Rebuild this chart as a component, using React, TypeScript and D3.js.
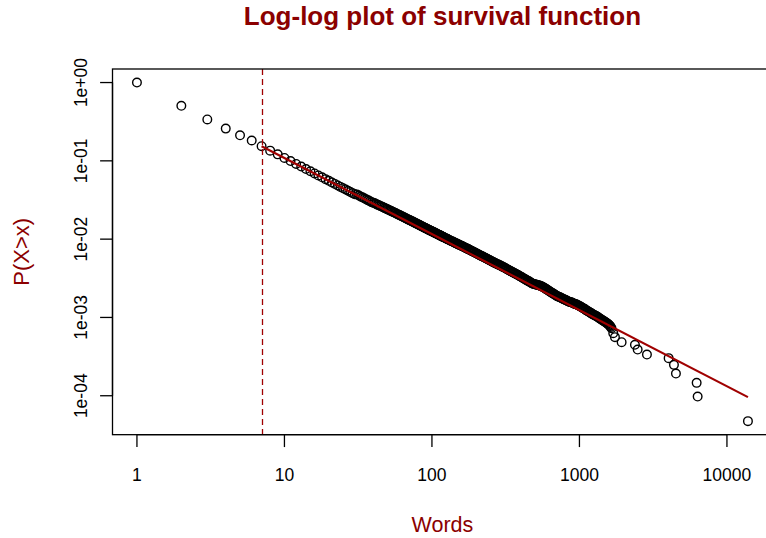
import React from "react";
import * as d3 from "d3";

// ---- data ----
const wordsX: number[] = [
  1, 2, 3, 4, 5, 6, 7, 8, 9, 10, 11, 12, 13, 14, 15, 16, 17, 18, 19, 20,
  21, 22, 23, 24, 25, 26, 27, 28, 29, 30, 31, 32, 33, 34, 35, 36, 37, 38, 39, 40,
  41, 42, 43, 44, 45, 46, 47, 48, 49, 50, 51, 52, 53, 54, 55, 56, 57, 58, 59, 60,
  62, 63, 65, 66, 68, 70, 72, 74, 76, 78, 80, 82, 85, 87, 90, 92, 95, 98, 100,
  103, 106, 109, 112, 115, 118, 121, 125, 128, 132, 136, 140, 144, 148, 152, 157,
  161, 166, 171, 176, 181, 186, 192, 198, 204, 210, 216, 222, 229, 236, 243, 250,
  258, 266, 274, 282, 291, 300, 309, 318, 328, 338, 348, 358, 369, 380, 392, 404,
  416, 429, 442, 455, 469, 483, 498, 513, 528, 544, 560, 577, 595, 613, 631, 650,
  670, 690, 711, 732, 754, 777, 800, 824, 849, 875, 901, 928, 956, 985, 1015, 1045,
  1077, 1109, 1142, 1177, 1212, 1249, 1286, 1325, 1365, 1406, 1448, 1490, 1530, 1570,
  1610, 1650, 1695, 1741, 1932, 2378, 2481, 2868, 4024, 4372, 4510, 6232, 6330, 13880,
];

const survivalY: number[] = [
  1.0, 0.505, 0.338, 0.258, 0.212, 0.182, 0.154, 0.135, 0.121, 0.109, 0.0994, 0.0913,
  0.0845, 0.0786, 0.0735, 0.069, 0.0651, 0.0616, 0.0584, 0.0556, 0.053, 0.0507, 0.0485,
  0.0465, 0.0447, 0.0431, 0.0415, 0.0401, 0.0387, 0.0375, 0.0371, 0.036, 0.0349, 0.034,
  0.033, 0.0321, 0.0313, 0.0305, 0.0297, 0.0291, 0.0287, 0.028, 0.0274, 0.0269, 0.0264,
  0.0259, 0.0254, 0.0249, 0.0245, 0.024, 0.0236, 0.0232, 0.0228, 0.0224, 0.0221, 0.0217,
  0.0214, 0.021, 0.0207, 0.0204,
  0.0197, 0.0195, 0.0189, 0.01866, 0.01812, 0.01762, 0.01719, 0.01674, 0.01631, 0.0159,
  0.01555, 0.01518, 0.01466, 0.01433, 0.01387, 0.0136, 0.01319, 0.01279, 0.01257,
  0.01222, 0.01191, 0.01159, 0.01129, 0.01102, 0.01075, 0.01052, 0.01019, 0.00998,
  0.00968, 0.00943, 0.00919, 0.00894, 0.00873, 0.00852, 0.00828,
  0.0081, 0.00788, 0.00767, 0.00746, 0.00727, 0.00708, 0.00687, 0.00665, 0.00645,
  0.00627, 0.00611, 0.00597, 0.0058, 0.00563, 0.00547, 0.0053,
  0.00513, 0.00498, 0.00485, 0.00473, 0.0046, 0.00446, 0.00434, 0.00421, 0.00407,
  0.00395, 0.00384, 0.00373, 0.00362, 0.00351, 0.00339, 0.00328,
  0.00317, 0.00307, 0.00297, 0.00289, 0.00277, 0.0027, 0.00265, 0.00261, 0.00258,
  0.00253, 0.00246, 0.00239, 0.0023, 0.00222, 0.00214, 0.00207,
  0.00199, 0.00192, 0.00186, 0.00182, 0.00177, 0.00172, 0.00168, 0.00163, 0.00159,
  0.00156, 0.00153, 0.00149, 0.00146, 0.00142, 0.00138, 0.00133,
  0.00129, 0.00124, 0.0012, 0.00116, 0.00112, 0.00108, 0.00105, 0.00102, 0.000977,
  0.000943, 0.00091, 0.000881, 0.000849, 0.000818,
  0.00078, 0.000728, 0.00063, 0.00056, 0.000483, 0.000447, 0.000389, 0.000336,
  0.000302, 0.000248, 0.000192, 0.000146, 0.0000977, 0.0000474,
];

// further distinct word counts inside the dense black band (61 … 1630)
const bandX: number[] = [
  61, 64, 67, 69, 71, 73, 75, 77, 79, 81, 83, 84, 86, 88, 89, 91, 93, 94, 96, 97, 99,
  101, 102, 104, 105, 107, 108, 110, 111, 113, 114, 116, 117, 119, 120, 123, 126, 127,
  130, 134, 138, 142, 146, 150, 154, 159, 163, 168, 173, 178, 183, 189, 195, 201, 207,
  213, 219, 225, 232, 239, 246, 254, 262, 270, 278, 286, 295, 304, 313, 323, 333, 343,
  353, 363, 374, 386, 398, 410, 422, 435, 448, 462, 476, 490, 505, 520, 536, 552, 568,
  586, 604, 622, 640, 660, 680, 700, 721, 743, 765, 788, 812, 836, 862, 888, 914, 942,
  970, 1000, 1030, 1061, 1093, 1125, 1160, 1194, 1230, 1267, 1305, 1345, 1385, 1427,
  1469, 1510, 1550, 1590, 1630,
];

const bandY: number[] = [
  0.02, 0.0192, 0.01839, 0.01787, 0.0174, 0.01696, 0.01652, 0.0161, 0.01572, 0.01536,
  0.015, 0.01483, 0.0145, 0.01418, 0.01402, 0.01373, 0.01346, 0.01332, 0.01305, 0.01292,
  0.01268, 0.01245, 0.01233, 0.01212, 0.01201, 0.0118, 0.0117, 0.01149, 0.01139, 0.0112,
  0.01111, 0.01093, 0.01084, 0.01068, 0.0106, 0.01035, 0.01012, 0.01005, 0.00983,
  0.00955, 0.00931, 0.00906, 0.00883, 0.00862, 0.00843, 0.00819, 0.00799, 0.00778,
  0.00757, 0.00737, 0.00718, 0.00697, 0.00676, 0.00655, 0.00636, 0.00619, 0.00604,
  0.00589, 0.00572, 0.00555, 0.00539, 0.00522, 0.00506, 0.00492, 0.00479, 0.00467,
  0.00453, 0.0044, 0.00428, 0.00414, 0.00401, 0.0039, 0.00379, 0.00368, 0.00357,
  0.00345, 0.00334, 0.00323, 0.00312, 0.00302, 0.00293, 0.00283, 0.00274, 0.00268,
  0.00263, 0.0026, 0.00256, 0.0025, 0.00243, 0.00235, 0.00226, 0.00218, 0.0021,
  0.00203, 0.00196, 0.00189, 0.00184, 0.0018, 0.00175, 0.0017, 0.00166, 0.00161,
  0.00158, 0.00155, 0.00151, 0.00148, 0.00144, 0.0014, 0.00136, 0.00131, 0.00127,
  0.00122, 0.00118, 0.00114, 0.0011, 0.00107, 0.001035, 0.000998, 0.00096, 0.000927,
  0.000895, 0.000865, 0.000833, 0.0008, 0.000755,
];

const fitX: number[] = [7, 13880];
const fitY: number[] = [0.154, 0.000096];
const xminValue = 7;

const xTicks: number[] = [1, 10, 100, 1000, 10000];
const xTickLabels: string[] = ["1", "10", "100", "1000", "10000"];
const yTicks: number[] = [1, 0.1, 0.01, 0.001, 0.0001];
const yTickLabels: string[] = ["1e+00", "1e-01", "1e-02", "1e-03", "1e-04"];

const titleText = "Log-log plot of survival function";
const xLabel = "Words";
const yLabel = "P(X>x)";

// ---- layout ----
const W = 766;
const H = 538;
const left = 112.5;
const top = 69;
const decadeX = 147.5;
const decadeY = 78.3;
const DARKRED = "#8B0000";
const FONT = "'Liberation Sans', Arial, sans-serif";

export default function App() {
  const allX = wordsX.concat(bandX);
  const allY = survivalY.concat(bandY);

  const lx0 = Math.log10(d3.min(allX)!);
  const lx1 = Math.log10(d3.max(allX)!);
  const px = 0.04 * (lx1 - lx0);
  const ly0 = Math.log10(d3.min(allY)!);
  const ly1 = Math.log10(d3.max(allY)!);
  const py = 0.04 * (ly1 - ly0);

  const right = left + decadeX * (lx1 - lx0 + 2 * px);
  const bottom = top + decadeY * (ly1 - ly0 + 2 * py);

  const x = d3
    .scaleLog()
    .domain([Math.pow(10, lx0 - px), Math.pow(10, lx1 + px)])
    .range([left, right]);
  const y = d3
    .scaleLog()
    .domain([Math.pow(10, ly0 - py), Math.pow(10, ly1 + py)])
    .range([bottom, top]);

  const fitLine = d3
    .line<number>()
    .x((_, i) => x(fitX[i]))
    .y((d) => y(d))(fitY);

  const tickLen = 12.4;
  const cx = (left + right) / 2;
  const cy = (top + bottom) / 2;
  const vx = Math.round(x(xminValue)) + 0.5;

  return (
    <svg
      width={W}
      height={H}
      style={{ position: "absolute", left: 0, top: 0, overflow: "hidden", background: "#fff" }}
    >
      <rect x={0} y={0} width={W} height={H} fill="#fff" />
      {/* title */}
      <text
        x={cx}
        y={25}
        textAnchor="middle"
        fontFamily={FONT}
        fontWeight="bold"
        fontSize={26}
        fill={DARKRED}
      >
        {titleText}
      </text>

      {/* points */}
      <g fill="none" stroke="#000" strokeWidth={1.4}>
        {allX.map((d, i) => (
          <circle key={i} cx={x(d)} cy={y(allY[i])} r={4.3} />
        ))}
      </g>

      {/* fitted power-law line */}
      <path d={fitLine || ""} fill="none" stroke="#A00000" strokeWidth={2.2} />

      {/* xmin marker */}
      <line
        x1={vx}
        x2={vx}
        y1={top}
        y2={bottom}
        stroke="#A00000"
        strokeWidth={1.3}
        strokeDasharray="6,4"
      />

      {/* box */}
      <rect x={left} y={top} width={right - left} height={bottom - top} fill="none" stroke="#000" strokeWidth={1.3} />

      {/* x axis */}
      <g>
        <line x1={x(xTicks[0])} x2={x(xTicks[xTicks.length - 1])} y1={bottom} y2={bottom} stroke="#000" strokeWidth={1.3} />
        {xTicks.map((t, i) => (
          <g key={i}>
            <line x1={x(t)} x2={x(t)} y1={bottom} y2={bottom + tickLen} stroke="#000" strokeWidth={1.3} />
            <text
              x={x(t)}
              y={481}
              textAnchor="middle"
              fontFamily={FONT}
              fontSize={17.5}
              fill="#000"
            >
              {xTickLabels[i]}
            </text>
          </g>
        ))}
      </g>

      {/* y axis */}
      <g>
        <line x1={left} x2={left} y1={y(yTicks[0])} y2={y(yTicks[yTicks.length - 1])} stroke="#000" strokeWidth={1.3} />
        {yTicks.map((t, i) => (
          <g key={i}>
            <line x1={left - tickLen} x2={left} y1={y(t)} y2={y(t)} stroke="#000" strokeWidth={1.3} />
            <text
              transform={`translate(87,${y(t)}) rotate(-90)`}
              textAnchor="middle"
              fontFamily={FONT}
              fontSize={17.5}
              fill="#000"
            >
              {yTickLabels[i]}
            </text>
          </g>
        ))}
      </g>

      {/* axis labels */}
      <text x={cx} y={532} textAnchor="middle" fontFamily={FONT} fontSize={21.5} fill={DARKRED}>
        {xLabel}
      </text>
      <text
        transform={`translate(29,${cy}) rotate(-90)`}
        textAnchor="middle"
        fontFamily={FONT}
        fontSize={22}
        fill={DARKRED}
      >
        {yLabel}
      </text>
    </svg>
  );
}
